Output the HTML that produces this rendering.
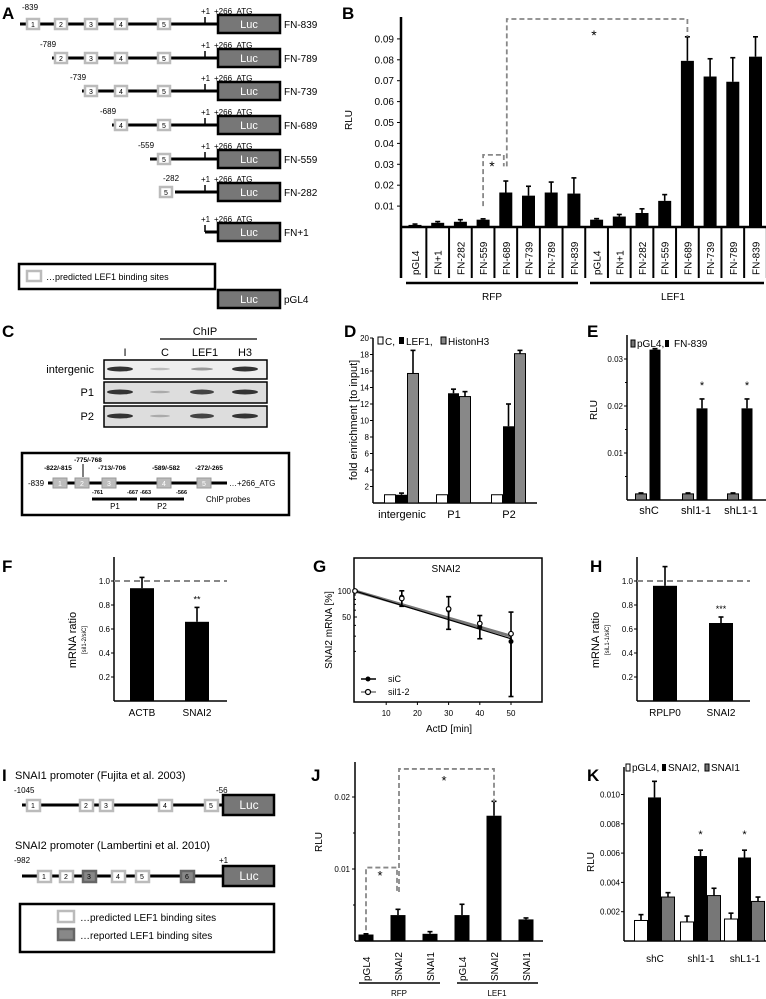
<!DOCTYPE html>
<html><head><meta charset="utf-8"><style>
html,body{margin:0;padding:0;background:#fff}
svg{display:block;font-family:"Liberation Sans",sans-serif}
</style></head><body>
<svg id="fig" width="766" height="999" viewBox="0 0 766 999" xmlns="http://www.w3.org/2000/svg">
<g font-weight="bold" font-size="17">
<text x="2" y="19">A</text><text x="342" y="19">B</text><text x="2" y="337">C</text>
<text x="344" y="337">D</text><text x="587" y="337">E</text><text x="2" y="572">F</text>
<text x="313" y="572">G</text><text x="590" y="572">H</text><text x="2" y="781">I</text>
<text x="311" y="781">J</text><text x="587" y="781">K</text>
</g>

<g id="panelA" font-size="8"></g>
<g>
<rect x="19" y="264" width="196" height="25" fill="none" stroke="#000" stroke-width="2.5"/>
<rect x="27" y="271" width="14" height="10" fill="#fff" stroke="#bbb" stroke-width="2.5"/>
<text x="46" y="280" font-size="9">…predicted LEF1 binding sites</text>
<rect x="218" y="290" width="62" height="18" fill="#777" stroke="#000" stroke-width="2.5"/>
<text x="249" y="303" font-size="11" fill="#fff" text-anchor="middle">Luc</text>
<text x="284" y="303" font-size="10">pGL4</text>
</g>

<g font-size="11">
<text x="205" y="335" text-anchor="middle">ChIP</text>
<line x1="160" y1="339" x2="257" y2="339" stroke="#000" stroke-width="1.2"/>
<text x="125" y="356" text-anchor="middle">I</text><text x="165" y="356" text-anchor="middle">C</text>
<text x="205" y="356" text-anchor="middle">LEF1</text><text x="245" y="356" text-anchor="middle">H3</text>
<text x="94" y="373" text-anchor="end">intergenic</text><text x="94" y="396" text-anchor="end">P1</text><text x="94" y="420" text-anchor="end">P2</text>
<rect x="104" y="360" width="163" height="19" fill="#eee" stroke="#000" stroke-width="1.5"/>
<rect x="104" y="382" width="163" height="21" fill="#ddd" stroke="#000" stroke-width="1.5"/>
<rect x="104" y="406" width="163" height="21" fill="#ddd" stroke="#000" stroke-width="1.5"/>
<g fill="#333">
<ellipse cx="120" cy="369" rx="13" ry="2.5"/><ellipse cx="160" cy="369" rx="10" ry="1.2" fill="#bbb"/><ellipse cx="202" cy="369" rx="11" ry="1.5" fill="#999"/><ellipse cx="245" cy="369" rx="13" ry="2.5"/>
<ellipse cx="120" cy="392" rx="13" ry="2.5"/><ellipse cx="160" cy="392" rx="10" ry="1.2" fill="#aaa"/><ellipse cx="202" cy="392" rx="12" ry="2.5" fill="#444"/><ellipse cx="245" cy="392" rx="13" ry="2.5"/>
<ellipse cx="120" cy="416" rx="13" ry="2.5"/><ellipse cx="160" cy="416" rx="10" ry="1.2" fill="#aaa"/><ellipse cx="202" cy="416" rx="12" ry="2.5" fill="#444"/><ellipse cx="245" cy="416" rx="13" ry="2.5"/>
</g>
<rect x="22" y="453" width="267" height="62" fill="none" stroke="#000" stroke-width="2.5"/>
<line x1="48" y1="483" x2="227" y2="483" stroke="#000" stroke-width="3"/>
<text x="28" y="486" font-size="8">-839</text><text x="229" y="486" font-size="8">…+266_ATG</text>
<g fill="#bbb" stroke="#999"><rect x="53" y="478" width="14" height="10"/><rect x="75" y="478" width="14" height="10"/><rect x="102" y="478" width="14" height="10"/><rect x="157" y="478" width="14" height="10"/><rect x="197" y="478" width="14" height="10"/></g>
<g font-size="7" text-anchor="middle" fill="#fff"><text x="60" y="486">1</text><text x="82" y="486">2</text><text x="109" y="486">3</text><text x="164" y="486">4</text><text x="204" y="486">5</text></g>
<g font-size="6.5" font-weight="bold" text-anchor="middle"><text x="58" y="470">-822/-815</text><text x="88" y="462">-775/-768</text><text x="112" y="470">-713/-706</text><text x="166" y="470">-589/-582</text><text x="209" y="470">-272/-265</text></g>
<line x1="83" y1="464" x2="83" y2="477" stroke="#000"/>
<line x1="92" y1="499" x2="137" y2="499" stroke="#000" stroke-width="3"/><line x1="140" y1="499" x2="184" y2="499" stroke="#000" stroke-width="3"/>
<g font-size="5.5" font-weight="bold"><text x="92" y="494">-761</text><text x="127" y="494">-667</text><text x="140" y="494">-663</text><text x="176" y="494">-566</text></g>
<text x="115" y="509" font-size="8" text-anchor="middle">P1</text><text x="162" y="509" font-size="8" text-anchor="middle">P2</text>
<text x="206" y="502" font-size="8">ChIP probes</text>
</g>

<g font-size="11">
<text x="15" y="779">SNAI1 promoter (Fujita et al. 2003)</text>
<text x="14" y="793" font-size="8">-1045</text><text x="216" y="793" font-size="8">-56</text>
<line x1="22" y1="805" x2="223" y2="805" stroke="#000" stroke-width="3"/>
<g fill="#fff" stroke="#bbb" stroke-width="2.5"><rect x="27" y="800" width="13" height="11"/><rect x="80" y="800" width="13" height="11"/><rect x="100" y="800" width="13" height="11"/><rect x="159" y="800" width="13" height="11"/><rect x="205" y="800" width="13" height="11"/></g>
<g font-size="7" text-anchor="middle"><text x="33" y="808">1</text><text x="86" y="808">2</text><text x="106" y="808">3</text><text x="165" y="808">4</text><text x="211" y="808">5</text></g>
<rect x="223" y="795" width="51" height="20" fill="#777" stroke="#000" stroke-width="2.5"/><text x="249" y="809" fill="#fff" text-anchor="middle" font-size="12">Luc</text>
<text x="15" y="849">SNAI2 promoter (Lambertini et al. 2010)</text>
<text x="14" y="863" font-size="8">-982</text><text x="219" y="863" font-size="8">+1</text>
<line x1="22" y1="876" x2="223" y2="876" stroke="#000" stroke-width="3"/>
<g fill="#fff" stroke="#bbb" stroke-width="2.5"><rect x="38" y="871" width="13" height="11"/><rect x="60" y="871" width="13" height="11"/><rect x="112" y="871" width="13" height="11"/><rect x="136" y="871" width="13" height="11"/></g>
<g fill="#888" stroke="#666" stroke-width="2.5"><rect x="83" y="871" width="13" height="11"/><rect x="181" y="871" width="13" height="11"/></g>
<g font-size="7" text-anchor="middle"><text x="44" y="879">1</text><text x="66" y="879">2</text><text x="89" y="879">3</text><text x="118" y="879">4</text><text x="142" y="879">5</text><text x="187" y="879">6</text></g>
<rect x="223" y="866" width="51" height="20" fill="#777" stroke="#000" stroke-width="2.5"/><text x="249" y="880" fill="#fff" text-anchor="middle" font-size="12">Luc</text>
<rect x="20" y="904" width="254" height="48" fill="none" stroke="#000" stroke-width="2.5"/>
<rect x="58" y="911" width="16" height="11" fill="#fff" stroke="#bbb" stroke-width="2.5"/>
<rect x="58" y="929" width="16" height="11" fill="#888" stroke="#666" stroke-width="2.5"/>
<text x="80" y="921" font-size="10">…predicted LEF1 binding sites</text>
<text x="80" y="939" font-size="10">…reported LEF1 binding sites</text>
</g>
</svg>
<script>
const aRows = ['FN-839','FN-789','FN-739','FN-689','FN-559','FN-282','FN+1'];
const aStarts = ['-839','-789','-739','-689','-559','-282','+1'];
const aBoxes = [5,4,3,2,1,1,0];

const bCats = ['pGL4','FN+1','FN-282','FN-559','FN-689','FN-739','FN-789','FN-839'];
const bRFP = [0.001,0.002,0.0025,0.0035,0.0165,0.015,0.0165,0.016];
const bRFPerr = [0.0004,0.0006,0.001,0.0004,0.0055,0.0045,0.005,0.0075];
const bLEF1 = [0.0035,0.005,0.0067,0.0125,0.0795,0.072,0.0695,0.0815];
const bLEF1err = [0.0005,0.001,0.002,0.003,0.0115,0.0085,0.0115,0.0095];
const bTicks = [0.01,0.02,0.03,0.04,0.05,0.06,0.07,0.08,0.09];

const dGroups = ['intergenic','P1','P2'];
const dC = [1,1,1];
const dLEF1 = [1,13.3,9.3];
const dLEF1err = [0.2,0.5,2.7];
const dH3 = [15.7,12.9,18.1];
const dH3err = [2.8,0.6,0.4];
const dTicks = [2,4,6,8,10,12,14,16,18,20];

const eGroups = ['shC','shl1-1','shL1-1'];
const ePGL4 = [0.0013,0.0013,0.0013];
const eFN = [0.032,0.0195,0.0195];
const eFNerr = [0.0002,0.002,0.002];
const eTicks = [0.01,0.02,0.03];

const fCats = ['ACTB','SNAI2'];
const fVals = [0.94,0.66];
const fErr = [0.09,0.12];
const hCats = ['RPLP0','SNAI2'];
const hVals = [0.96,0.65];
const hErr = [0.16,0.05];
const ratioTicks = [0.2,0.4,0.6,0.8,1.0];

const gTimes = [0,15,30,40,50];
const gSiC = [100,85,60,38,26];
const gSil = [100,82,62,42,32];
const gErr = [3,17,25,12,28];
const gFit = [100,30];
const gXTicks = [10,20,30,40,50];
const gYTicks = [50,100];

const jCats = ['pGL4','SNAI2','SNAI1','pGL4','SNAI2','SNAI1'];
const jVals = [0.0009,0.0036,0.001,0.0036,0.0174,0.003];
const jErr = [0.0001,0.0008,0.0003,0.0015,0.002,0.0002];
const jTicks = [0.01,0.02];

const kGroups = ['shC','shl1-1','shL1-1'];
const kPGL4 = [0.0014,0.0013,0.0015];
const kPGL4err = [0.0004,0.0004,0.0004];
const kSNAI2 = [0.0098,0.0058,0.0057];
const kSNAI2err = [0.0011,0.0004,0.0005];
const kSNAI1 = [0.003,0.0031,0.0027];
const kSNAI1err = [0.0003,0.0005,0.0003];
const kTicks = [0.002,0.004,0.006,0.008,0.010];

const NS = 'http://www.w3.org/2000/svg';
const svg = document.getElementById('fig');
function mk(tag, attrs, parent) {
  const e = document.createElementNS(NS, tag);
  for (const k in attrs) e.setAttribute(k, attrs[k]);
  (parent || svg).appendChild(e);
  return e;
}
function txt(x, y, s, size, anchor, extra) {
  const t = mk('text', Object.assign({x: x, y: y, 'font-size': size, 'text-anchor': anchor || 'start'}, extra || {}));
  t.textContent = s;
  return t;
}
function errbar(x, yTop, yVal) {
  const l = mk('line', {x1: x, x2: x, y1: yVal, y2: yTop, stroke: '#000', 'stroke-width': 1.6});
  
  
  const c = mk('line', {x1: x - 2.5, x2: x + 2.5, y1: yTop, y2: yTop, stroke: '#000', 'stroke-width': 1.6});
  
  
}
function dash(points) {
  const p = mk('polyline', {points: points, fill: 'none', stroke: '#888', 'stroke-width': 1.8, 'stroke-dasharray': '5,3'});
  
  
}

(function(){
  const rowY = [24,58,91,125,159,192,232];
  const startX = [20,52,82,112,150,175,205];
  const boxX = [27,55,85,115,158];
  const g = document.getElementById('panelA');
  aRows.forEach(function(name, i){
    const y = rowY[i];
    const l = mk('line', {x1: startX[i], x2: 218, y1: y, y2: y, stroke: '#000', 'stroke-width': 3}, g);
    
    
    const nb = aBoxes[i];
    for (let b = 5 - nb; b < 5; b++) {
      let bx = boxX[b];
      if (i === 5) bx = 160;
      const r = mk('rect', {x: bx, y: y - 5, width: 12, height: 10, fill: '#fff', stroke: '#bbb', 'stroke-width': 2.5}, g);
      
      
      txt(bx + 6, y + 3, String(b + 1), 7, 'middle');
    }
    if (i < 6) txt(i === 0 ? 22 : startX[i] - 12, i === 0 ? 10 : y - 11, aStarts[i], 8);
    mk('line', {x1: 205, x2: 205, y1: y - 7, y2: y, stroke: '#000', 'stroke-width': 1.5}, g);
    txt(201, y - 10, '+1', 8);
    txt(214, y - 10, '+266_ATG', 8);
    const luc = mk('rect', {x: 218, y: y - 9, width: 62, height: 18, fill: '#777', stroke: '#000', 'stroke-width': 2.5}, g);
    
    
    txt(249, y + 4, 'Luc', 11, 'middle', {fill: '#fff'});
    txt(284, y + 4, name, 10);
  });
})();

(function(){
  const yB = v => 227 - v * 2090;
  const xB = i => 415 + i * 22.7;
  mk('line', {x1: 401, x2: 401, y1: 17, y2: 278, stroke: '#000', 'stroke-width': 2.5});
  mk('line', {x1: 401, x2: 766, y1: 227, y2: 227, stroke: '#000', 'stroke-width': 2.5});
  bTicks.forEach(function(t){
    mk('line', {x1: 397, x2: 401, y1: yB(t), y2: yB(t), stroke: '#000'});
    const tl = txt(394, yB(t) + 3.5, t.toFixed(2), 10, 'end');
    
  });
  const yl = txt(0, 0, 'RLU', 10, 'middle', {transform: 'translate(352,120) rotate(-90)'});
  
  const all = bRFP.concat(bLEF1), allE = bRFPerr.concat(bLEF1err), cats = bCats.concat(bCats);
  all.forEach(function(v, i){
    const x = xB(i);
    const r = mk('rect', {x: x - 6.5, y: yB(v), width: 13, height: 227 - yB(v), fill: '#000'});
    
    
    errbar(x, yB(v + allE[i]), yB(v));
    mk('line', {x1: x + 11.35, x2: x + 11.35, y1: 227, y2: 278, stroke: '#000', 'stroke-width': 2});
    const cl = txt(0, 0, cats[i], 10, 'start', {transform: 'translate(' + (x + 4) + ',275) rotate(-90)'});
    
  });
  mk('line', {x1: 406, x2: 578, y1: 283, y2: 283, stroke: '#000', 'stroke-width': 2.5});
  mk('line', {x1: 590, x2: 764, y1: 283, y2: 283, stroke: '#000', 'stroke-width': 2.5});
  txt(492, 300, 'RFP', 10, 'middle');
  txt(673, 300, 'LEF1', 10, 'middle');
  dash(xB(3) + ' ' + yB(0.01) + ' ' + xB(3) + ' ' + yB(0.0345) + ' ' + (xB(4) - 2) + ' ' + yB(0.0345) + ' ' + (xB(4) - 2) + ' ' + yB(0.029));
  txt(492, 171, '*', 14, 'middle');
  dash((xB(4) + 1) + ' ' + yB(0.029) + ' ' + (xB(4) + 1) + ' ' + 19 + ' ' + xB(12) + ' 19 ' + xB(12) + ' ' + yB(0.091));
  txt(594, 40, '*', 14, 'middle');
})();

(function(){
  const yD = v => 503 - v * 8.25;
  const gx = [390, 442, 497];
  mk('line', {x1: 373, x2: 373, y1: 338, y2: 503, stroke: '#000', 'stroke-width': 1.5});
  mk('line', {x1: 373, x2: 537, y1: 503, y2: 503, stroke: '#000', 'stroke-width': 1.5});
  dTicks.forEach(function(t){
    mk('line', {x1: 370, x2: 373, y1: yD(t), y2: yD(t), stroke: '#000'});
    const tl = txt(369, yD(t) + 3, String(t), 8, 'end');
    
  });
  const yl = txt(0, 0, 'fold enrichment  [to input]', 11, 'middle', {transform: 'translate(357,420) rotate(-90)'});
  
  dGroups.forEach(function(gname, i){
    const x0 = gx[i];
    const r1 = mk('rect', {x: x0 - 5.5, y: yD(dC[i]), width: 11, height: 503 - yD(dC[i]), fill: '#fff', stroke: '#000'});
    
    const r2 = mk('rect', {x: x0 + 6, y: yD(dLEF1[i]), width: 11, height: 503 - yD(dLEF1[i]), fill: '#000'});
    
    errbar(x0 + 11.5, yD(dLEF1[i] + dLEF1err[i]), yD(dLEF1[i]));
    const r3 = mk('rect', {x: x0 + 17.5, y: yD(dH3[i]), width: 11, height: 503 - yD(dH3[i]), fill: '#888', stroke: '#000'});
    
    errbar(x0 + 23, yD(dH3[i] + dH3err[i]), yD(dH3[i]));
    const l = txt(x0 + 12, 518, gname, 11, 'middle');
    
  });
  const lg = mk('g', {'font-size': 10});
  
  mk('rect', {x: 378, y: 337, width: 5, height: 7, fill: '#fff', stroke: '#000'}, lg);
  txt(385, 345, 'C,', 10);
  mk('rect', {x: 399, y: 337, width: 5, height: 7, fill: '#000'}, lg);
  txt(406, 345, 'LEF1,', 10);
  mk('rect', {x: 441, y: 337, width: 5, height: 7, fill: '#888', stroke: '#000'}, lg);
  txt(448, 345, 'HistonH3', 10);
})();

(function(){
  const yE = v => 500 - v * 4700;
  const gx = [641, 688, 733];
  mk('line', {x1: 627, x2: 627, y1: 335, y2: 500, stroke: '#000', 'stroke-width': 1.5});
  mk('line', {x1: 627, x2: 766, y1: 500, y2: 500, stroke: '#000', 'stroke-width': 1.5});
  eTicks.forEach(function(t){
    mk('line', {x1: 624, x2: 627, y1: yE(t), y2: yE(t), stroke: '#000'});
    mk('line', {x1: 625, x2: 627, y1: yE(t - 0.005), y2: yE(t - 0.005), stroke: '#000'});
    const tl = txt(623, yE(t) + 3, t.toFixed(2), 8, 'end');
    
  });
  const yl = txt(0, 0, 'RLU', 10, 'middle', {transform: 'translate(597,410) rotate(-90)'});
  
  eGroups.forEach(function(gname, i){
    const x0 = gx[i];
    const r1 = mk('rect', {x: x0 - 5.5, y: yE(ePGL4[i]), width: 11, height: 500 - yE(ePGL4[i]), fill: '#777', stroke: '#000'});
    
    errbar(x0, yE(ePGL4[i] + 0.0002), yE(ePGL4[i]));
    const r2 = mk('rect', {x: x0 + 8.5, y: yE(eFN[i]), width: 11, height: 500 - yE(eFN[i]), fill: '#000'});
    
    errbar(x0 + 14, yE(eFN[i] + eFNerr[i]), yE(eFN[i]));
    if (i > 0) txt(x0 + 14, yE(eFN[i] + eFNerr[i]) - 10, '*', 11, 'middle');
    const l = txt(x0 + 8, 514, gname, 11, 'middle');
    
  });
  mk('rect', {x: 631, y: 340, width: 4, height: 7, fill: '#777', stroke: '#000'});
  txt(637, 347, 'pGL4,', 10);
  mk('rect', {x: 665, y: 340, width: 4, height: 7, fill: '#000'});
  txt(674, 347, 'FN-839', 10);
})();

function ratioPanel(ax, cx, cats, vals, errs, stars, ylab) {
  const yR = v => 701 - v * 120;
  mk('line', {x1: ax, x2: ax, y1: 557, y2: 701, stroke: '#000', 'stroke-width': 1.5});
  mk('line', {x1: ax, x2: ax + 113, y1: 701, y2: 701, stroke: '#000', 'stroke-width': 1.5});
  ratioTicks.forEach(function(t){
    mk('line', {x1: ax - 3, x2: ax, y1: yR(t), y2: yR(t), stroke: '#000'});
    const tl = txt(ax - 4, yR(t) + 3, t.toFixed(1), 8, 'end');
    
  });
  const dl = mk('line', {x1: ax, x2: ax + 113, y1: yR(1), y2: yR(1), stroke: '#888', 'stroke-width': 2, 'stroke-dasharray': '6,4'});
  
  const yl = txt(0, 0, 'mRNA ratio', 11, 'middle', {transform: 'translate(' + (ax - 38) + ',640) rotate(-90)'});
  
  txt(0, 0, ylab, 6, 'middle', {transform: 'translate(' + (ax - 28) + ',640) rotate(-90)'});
  cats.forEach(function(c, i){
    const x = cx[i];
    const r = mk('rect', {x: x - 12, y: yR(vals[i]), width: 24, height: 701 - yR(vals[i]), fill: '#000'});
    
    errbar(x, yR(vals[i] + errs[i]), yR(vals[i]));
    const l = txt(x, 716, c, 10, 'middle');
    
  });
  txt(cx[1], yR(vals[1] + errs[1]) - 5, stars, 9, 'middle');
}
ratioPanel(114, [142, 197], fCats, fVals, fErr, '**', '[sil1-2/siC]');
ratioPanel(637, [665, 721], hCats, hVals, hErr, '***', '[siL1-1/siC]');

(function(){
  const xG = t => 355 + t * 3.12;
  const yG = v => 591 - Math.log2(v / 100) * 26;
  const box = mk('rect', {x: 354, y: 558, width: 188, height: 144, fill: 'none', stroke: '#000', 'stroke-width': 1.5});
  
  txt(446, 572, 'SNAI2', 10, 'middle');
  gYTicks.forEach(function(t){
    mk('line', {x1: 354, x2: 357, y1: yG(t), y2: yG(t), stroke: '#000'});
    const tl = txt(351, yG(t) + 3, String(t), 8, 'end');
    
  });
  [90,80,70,60,40,30,20].forEach(function(t){ mk('line', {x1: 354, x2: 356, y1: yG(t), y2: yG(t), stroke: '#000'}); });
  gXTicks.forEach(function(t){
    mk('line', {x1: xG(t), x2: xG(t), y1: 702, y2: 705, stroke: '#000'});
    const tl = txt(xG(t), 716, String(t), 8, 'middle');
    
  });
  const xl = txt(449, 732, 'ActD [min]', 10, 'middle');
  
  const yl = txt(0, 0, 'SNAI2 mRNA [%]', 10, 'middle', {transform: 'translate(332,630) rotate(-90)'});
  
  const f1 = mk('line', {x1: xG(0), y1: yG(gFit[0]), x2: xG(50), y2: yG(gFit[1]), stroke: '#777', 'stroke-width': 3});
  
  const f2 = mk('line', {x1: xG(0), y1: yG(gFit[0]), x2: xG(50), y2: yG(gFit[1] - 2), stroke: '#000', 'stroke-width': 1.2});
  
  gTimes.forEach(function(t, i){
    const x = xG(t);
    const m = (gSiC[i] + gSil[i]) / 2;
    errbar(x, yG(m + gErr[i]), yG(Math.max(m - gErr[i], 6)));
    errbar(x, yG(Math.max(m - gErr[i], 6)), yG(m));
    const p1 = mk('circle', {cx: x, cy: yG(gSiC[i]), r: 2.5, fill: '#000'});
    
    const p2 = mk('circle', {cx: x, cy: yG(gSil[i]), r: 2.3, fill: '#fff', stroke: '#000', 'stroke-width': 1.2});
    
  });
  mk('line', {x1: 361, x2: 376, y1: 679, y2: 679, stroke: '#000', 'stroke-width': 1.5});
  mk('circle', {cx: 368, cy: 679, r: 2.5, fill: '#000'});
  txt(388, 682, 'siC', 9);
  mk('line', {x1: 361, x2: 376, y1: 692, y2: 692, stroke: '#777', 'stroke-width': 1.5});
  mk('circle', {cx: 368, cy: 692, r: 2.5, fill: '#fff', stroke: '#000', 'stroke-width': 1.2});
  txt(388, 695, 'sil1-2', 9);
})();

(function(){
  const yJ = v => 941 - v * 7200;
  const xJ = i => 366 + i * 32;
  mk('line', {x1: 355, x2: 355, y1: 762, y2: 941, stroke: '#000', 'stroke-width': 1.5});
  mk('line', {x1: 355, x2: 543, y1: 941, y2: 941, stroke: '#000', 'stroke-width': 1.5});
  jTicks.forEach(function(t){
    mk('line', {x1: 352, x2: 355, y1: yJ(t), y2: yJ(t), stroke: '#000'});
    mk('line', {x1: 353, x2: 355, y1: yJ(t - 0.005), y2: yJ(t - 0.005), stroke: '#000'});
    const tl = txt(350, yJ(t) + 3, t.toFixed(2), 8, 'end');
    
  });
  const yl = txt(0, 0, 'RLU', 10, 'middle', {transform: 'translate(322,842) rotate(-90)'});
  
  jCats.forEach(function(c, i){
    const x = xJ(i);
    const r = mk('rect', {x: x - 7.5, y: yJ(jVals[i]), width: 15, height: 941 - yJ(jVals[i]), fill: '#000'});
    
    errbar(x, yJ(jVals[i] + jErr[i]), yJ(jVals[i]));
    const l = txt(0, 0, c, 10, 'start', {transform: 'translate(' + (x + 4) + ',981) rotate(-90)'});
    
  });
  mk('line', {x1: 359, x2: 440, y1: 983, y2: 983, stroke: '#000', 'stroke-width': 1.5});
  mk('line', {x1: 457, x2: 538, y1: 983, y2: 983, stroke: '#000', 'stroke-width': 1.5});
  txt(399, 996, 'RFP', 8, 'middle');
  txt(497, 996, 'LEF1', 8, 'middle');
  dash(xJ(0) + ' ' + yJ(0.0015) + ' ' + xJ(0) + ' ' + yJ(0.0102) + ' ' + (xJ(1) - 1) + ' ' + yJ(0.0102) + ' ' + (xJ(1) - 1) + ' ' + yJ(0.0068));
  txt(380, 880, '*', 13, 'middle');
  dash((xJ(1) + 1) + ' ' + yJ(0.0068) + ' ' + (xJ(1) + 1) + ' ' + yJ(0.0239) + ' ' + xJ(4) + ' ' + yJ(0.0239) + ' ' + xJ(4) + ' ' + yJ(0.0193));
  txt(444, 785, '*', 13, 'middle');
})();

(function(){
  const yK = v => 941 - v * 14650;
  const gx = [641, 687, 731];
  mk('line', {x1: 624, x2: 624, y1: 767, y2: 941, stroke: '#000', 'stroke-width': 1.5});
  mk('line', {x1: 624, x2: 766, y1: 941, y2: 941, stroke: '#000', 'stroke-width': 1.5});
  kTicks.forEach(function(t){
    mk('line', {x1: 621, x2: 624, y1: yK(t), y2: yK(t), stroke: '#000'});
    const tl = txt(620, yK(t) + 3, t.toFixed(3), 8, 'end');
    
  });
  const yl = txt(0, 0, 'RLU', 10, 'middle', {transform: 'translate(594,862) rotate(-90)'});
  
  kGroups.forEach(function(gname, i){
    const x0 = gx[i];
    const r1 = mk('rect', {x: x0 - 6.5, y: yK(kPGL4[i]), width: 13, height: 941 - yK(kPGL4[i]), fill: '#fff', stroke: '#000'});
    
    errbar(x0, yK(kPGL4[i] + kPGL4err[i]), yK(kPGL4[i]));
    const r2 = mk('rect', {x: x0 + 7, y: yK(kSNAI2[i]), width: 13, height: 941 - yK(kSNAI2[i]), fill: '#000'});
    
    errbar(x0 + 13.5, yK(kSNAI2[i] + kSNAI2err[i]), yK(kSNAI2[i]));
    const r3 = mk('rect', {x: x0 + 20.5, y: yK(kSNAI1[i]), width: 13, height: 941 - yK(kSNAI1[i]), fill: '#777', stroke: '#000'});
    
    errbar(x0 + 27, yK(kSNAI1[i] + kSNAI1err[i]), yK(kSNAI1[i]));
    if (i > 0) txt(x0 + 13.5, yK(kSNAI2[i] + kSNAI2err[i]) - 12, '*', 11, 'middle');
    const l = txt(x0 + 14, 962, gname, 10, 'middle');
    
  });
  mk('rect', {x: 626, y: 764, width: 4, height: 7, fill: '#fff', stroke: '#000'});
  txt(632, 771, 'pGL4,', 10);
  mk('rect', {x: 662, y: 764, width: 4, height: 7, fill: '#000'});
  txt(668, 771, 'SNAI2,', 10);
  mk('rect', {x: 705, y: 764, width: 4, height: 7, fill: '#777', stroke: '#000'});
  txt(711, 771, 'SNAI1', 10);
})();
</script>
</body></html>
